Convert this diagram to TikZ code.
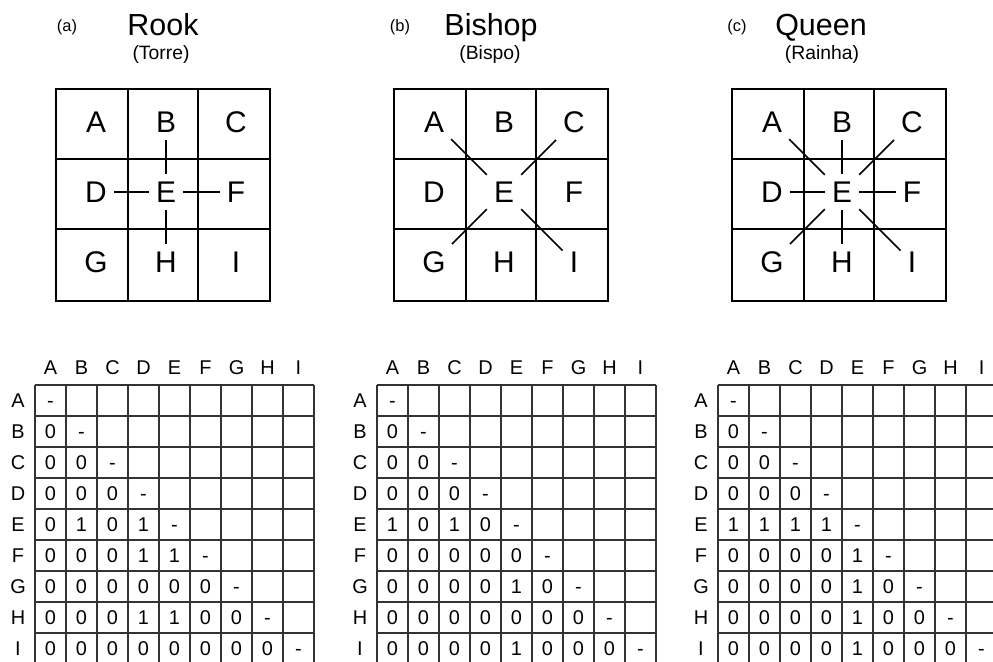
\documentclass[tikz,border=0pt]{standalone}
\usepackage{fontspec}
\setmainfont{Liberation Sans}

\tikzset{
  board/.style={line width=1.6pt},
  move/.style={line width=1.4pt},
  piece/.style={font=\fontsize{25.5}{25.5}\selectfont, inner sep=6pt, text height=18.3pt, text depth=0pt},
  piecename/.style={font=\fontsize{26}{26}\selectfont, inner sep=0pt, anchor=base},
  subname/.style={font=\fontsize{16.5}{16.5}\selectfont, inner sep=0pt, anchor=base},
  panel/.style={font=\fontsize{14}{14}\selectfont, inner sep=0pt, anchor=base},
  cellline/.style={line width=1.2pt, black!80},
  entry/.style={font=\fontsize{17}{17}\selectfont, inner sep=0pt, text height=12.2pt, text depth=0pt},
}

\begin{document}
\begin{tikzpicture}[x=0.03cm, y=-0.03cm]
  \useasboundingbox (0,0) rectangle (993,661);
  \clip (0,0) rectangle (993,661);

  % Rook board
  \begin{scope}[shift={(56,89)}]
    \node[panel] (ra) at (11,-58) {(a)};
    \node[piecename] (rt) at (107,-54) {Rook};
    \node[subname] (rs) at (105,-30) {(Torre)};
    \draw[board] (0,0) rectangle (214,212);
    \draw[board] (72,0) -- (72,212);
    \draw[board] (142,0) -- (142,212);
    \draw[board] (0,70) -- (214,70);
    \draw[board] (0,140) -- (214,140);
    \node[piece] (rA) at (40,33) {A};
    \node[piece] (rB) at (110,33) {B};
    \node[piece] (rC) at (180,33) {C};
    \node[piece] (rD) at (40,103) {D};
    \node[piece] (rE) at (110,103) {E};
    \node[piece] (rF) at (180,103) {F};
    \node[piece] (rG) at (40,173) {G};
    \node[piece] (rH) at (110,173) {H};
    \node[piece] (rI) at (180,173) {I};
    \draw[move] (rE) -- (rB);
    \draw[move] (rE) -- (rD);
    \draw[move] (rE) -- (rF);
    \draw[move] (rE) -- (rH);
  \end{scope}

  % Bishop board
  \begin{scope}[shift={(394,89)}]
    \node[panel] (ba) at (6,-58) {(b)};
    \node[piecename] (bt) at (97,-54) {Bishop};
    \node[subname] (bs) at (96,-30) {(Bispo)};
    \draw[board] (0,0) rectangle (214,212);
    \draw[board] (72,0) -- (72,212);
    \draw[board] (142,0) -- (142,212);
    \draw[board] (0,70) -- (214,70);
    \draw[board] (0,140) -- (214,140);
    \node[piece] (bA) at (40,33) {A};
    \node[piece] (bB) at (110,33) {B};
    \node[piece] (bC) at (180,33) {C};
    \node[piece] (bD) at (40,103) {D};
    \node[piece] (bE) at (110,103) {E};
    \node[piece] (bF) at (180,103) {F};
    \node[piece] (bG) at (40,173) {G};
    \node[piece] (bH) at (110,173) {H};
    \node[piece] (bI) at (180,173) {I};
    \draw[move] (bE) -- (bA);
    \draw[move] (bE) -- (bC);
    \draw[move] (bE) -- (bG);
    \draw[move] (bE) -- (bI);
  \end{scope}

  % Queen board
  \begin{scope}[shift={(732,89)}]
    \node[panel] (qa) at (5,-58) {(c)};
    \node[piecename] (qt) at (89,-54) {Queen};
    \node[subname] (qs) at (90,-30) {(Rainha)};
    \draw[board] (0,0) rectangle (214,212);
    \draw[board] (72,0) -- (72,212);
    \draw[board] (142,0) -- (142,212);
    \draw[board] (0,70) -- (214,70);
    \draw[board] (0,140) -- (214,140);
    \node[piece] (qA) at (40,33) {A};
    \node[piece] (qB) at (110,33) {B};
    \node[piece] (qC) at (180,33) {C};
    \node[piece] (qD) at (40,103) {D};
    \node[piece] (qE) at (110,103) {E};
    \node[piece] (qF) at (180,103) {F};
    \node[piece] (qG) at (40,173) {G};
    \node[piece] (qH) at (110,173) {H};
    \node[piece] (qI) at (180,173) {I};
    \foreach \n in {A,B,C,D,F,G,H,I}
      \draw[move] (qE) -- (q\n);
  \end{scope}

  % Rook matrix
  \begin{scope}[shift={(35,385)}]
    \foreach \k in {0,...,9} {
      \draw[cellline] (31*\k,0) -- (31*\k,279);
      \draw[cellline] (0,31*\k) -- (279,31*\k);
    }
    \foreach \l [count=\i from 0] in {A,B,C,D,E,F,G,H,I} {
      \node[entry] (rm-c\i) at (15.5+31*\i,-18) {\l};
      \node[entry] (rm-r\i) at (-17,15.5+31*\i) {\l};
    }
    \foreach \vals [count=\r from 0] in {{-},{0,-},{0,0,-},{0,0,0,-},{0,1,0,1,-},
        {0,0,0,1,1,-},{0,0,0,0,0,0,-},{0,0,0,1,1,0,0,-},{0,0,0,0,0,0,0,0,-}}
      \foreach \v [count=\c from 0] in \vals
        \node[entry] (rm-\r-\c) at (15.5+31*\c,15.5+31*\r) {\v};
  \end{scope}

  % Bishop matrix
  \begin{scope}[shift={(377,385)}]
    \foreach \k in {0,...,9} {
      \draw[cellline] (31*\k,0) -- (31*\k,279);
      \draw[cellline] (0,31*\k) -- (279,31*\k);
    }
    \foreach \l [count=\i from 0] in {A,B,C,D,E,F,G,H,I} {
      \node[entry] (bm-c\i) at (15.5+31*\i,-18) {\l};
      \node[entry] (bm-r\i) at (-17,15.5+31*\i) {\l};
    }
    \foreach \vals [count=\r from 0] in {{-},{0,-},{0,0,-},{0,0,0,-},{1,0,1,0,-},
        {0,0,0,0,0,-},{0,0,0,0,1,0,-},{0,0,0,0,0,0,0,-},{0,0,0,0,1,0,0,0,-}}
      \foreach \v [count=\c from 0] in \vals
        \node[entry] (bm-\r-\c) at (15.5+31*\c,15.5+31*\r) {\v};
  \end{scope}

  % Queen matrix
  \begin{scope}[shift={(718,385)}]
    \foreach \k in {0,...,9} {
      \draw[cellline] (31*\k,0) -- (31*\k,279);
      \draw[cellline] (0,31*\k) -- (279,31*\k);
    }
    \foreach \l [count=\i from 0] in {A,B,C,D,E,F,G,H,I} {
      \node[entry] (qm-c\i) at (15.5+31*\i,-18) {\l};
      \node[entry] (qm-r\i) at (-17,15.5+31*\i) {\l};
    }
    \foreach \vals [count=\r from 0] in {{-},{0,-},{0,0,-},{0,0,0,-},{1,1,1,1,-},
        {0,0,0,0,1,-},{0,0,0,0,1,0,-},{0,0,0,0,1,0,0,-},{0,0,0,0,1,0,0,0,-}}
      \foreach \v [count=\c from 0] in \vals
        \node[entry] (qm-\r-\c) at (15.5+31*\c,15.5+31*\r) {\v};
  \end{scope}

\end{tikzpicture}
\end{document}
